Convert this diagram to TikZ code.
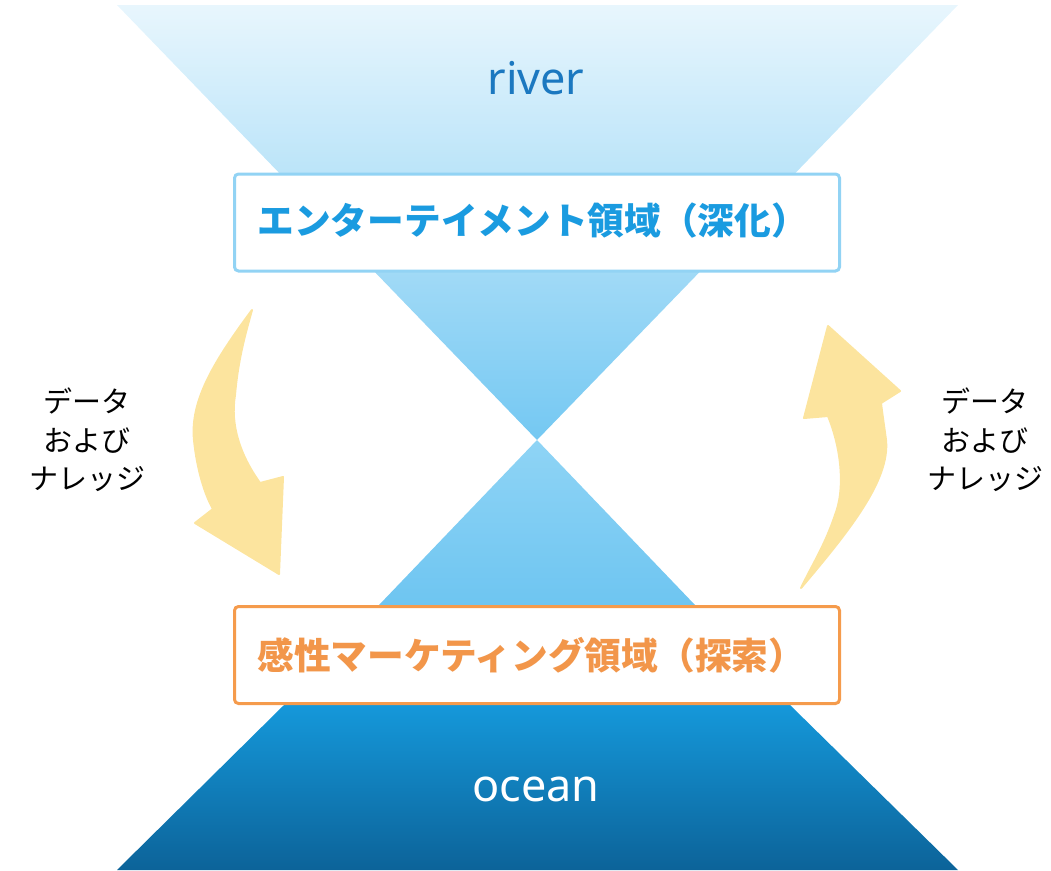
\documentclass[tikz,border=0pt]{standalone}
\usepackage{fontspec}
\setmainfont{Noto Sans}
\newfontfamily\cjk{Noto Sans CJK JP}
\definecolor{riverTop}{HTML}{E8F6FD}
\definecolor{riverBot}{HTML}{74C8F2}
\definecolor{midTop}{HTML}{8FD4F5}
\definecolor{midBot}{HTML}{6EC5F1}
\definecolor{oceanTop}{HTML}{1598DA}
\definecolor{oceanBot}{HTML}{0C6399}
\definecolor{boxBlue}{HTML}{92D3F4}
\definecolor{txtBlue}{HTML}{1A9BE0}
\definecolor{riverTxt}{HTML}{1B78C0}
\definecolor{boxOrange}{HTML}{F59B4C}
\definecolor{txtOrange}{HTML}{F2964A}
\definecolor{arrowYellow}{HTML}{FCE49E}
\tikzset{
  areabox/.style={draw, line width=3pt, rounded corners=4pt, fill=white, minimum width=605pt, minimum height=97pt, inner sep=0pt},
  areatext/.style={font=\cjk\bfseries\fontsize{36.7}{40}\selectfont},
  sidetext/.style={font=\cjk\fontsize{29}{38.5}\selectfont, align=center, text=black},
  bigarrow/.style={fill=arrowYellow, draw=arrowYellow, line width=2pt, line join=round},
  watertext/.style={font=\fontsize{45}{50}\selectfont},
}
\begin{document}
\begin{tikzpicture}[x=1pt,y=-1pt]
\useasboundingbox (0,0) rectangle (1051,870);
% funnel shapes
\shade[top color=riverTop, bottom color=riverBot] (117,5) -- (958,5) -- (537,440) -- cycle;
\shade[top color=midTop, bottom color=midBot] (537,440) -- (695,605) -- (379,605) -- cycle;
\shade[top color=oceanTop, bottom color=oceanBot] (284,705) -- (790,705) -- (958,870) -- (117,870) -- cycle;
% labels
\node[text=riverTxt, watertext] (river) at (536,78) {river};
\node[text=white, watertext] (ocean) at (536,789) {ocean};
% boxes
\node[areabox, draw=boxBlue] (top) at (537,222.5) {};
\node[areatext, text=txtBlue, anchor=west] (toptxt) at (254,221) {エンターテイメント領域（深化）};
\node[areabox, draw=boxOrange] (bot) at (537,655) {};
\node[areatext, text=txtOrange, anchor=west] (bottxt) at (254,655) {感性マーケティング領域（探索）};
% side texts
\node[sidetext] (ltxt) at (87,440) {データ\\および\\ナレッジ};
\node[sidetext] (rtxt) at (985,440) {データ\\および\\ナレッジ};
% arrows
\path[bigarrow] (252,310) .. controls (215,360) and (190,400) .. (194,440)
  .. controls (197,470) and (205,495) .. (213,509) -- (195,523) -- (279,574) -- (283,477) -- (260,483)
  .. controls (240,455) and (230,425) .. (235,395) .. controls (238,360) and (245,335) .. cycle;
\path[bigarrow] (801,588) .. controls (850,530) and (890,480) .. (886,440)
  .. controls (884,425) and (882,412) .. (881,403) -- (900,391) -- (828,326) -- (804,418) -- (828,416)
  .. controls (842,450) and (845,490) .. (835,515) .. controls (825,545) and (812,565) .. cycle;
\end{tikzpicture}
\end{document}
